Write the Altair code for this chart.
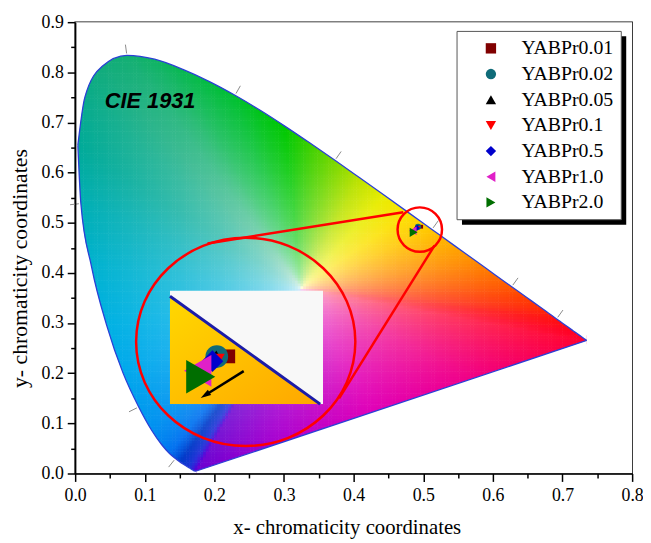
import numpy as np
import pandas as pd
import altair as alt

# ---------------- data ----------------
# CIE 1931 2-degree spectral locus (chromaticity of monochromatic light)
wavelength = list(range(380, 705, 5))
locus_x = [0.1741, 0.1740, 0.1738, 0.1736, 0.1733, 0.1730, 0.1726, 0.1721,
           0.1714, 0.1703, 0.1689, 0.1669, 0.1644, 0.1611, 0.1566, 0.1510,
           0.1440, 0.1355, 0.1241, 0.1096, 0.0913, 0.0687, 0.0454, 0.0235,
           0.0082, 0.0039, 0.0139, 0.0389, 0.0743, 0.1142, 0.1547, 0.1929,
           0.2296, 0.2658, 0.3016, 0.3373, 0.3731, 0.4087, 0.4441, 0.4788,
           0.5125, 0.5448, 0.5752, 0.6029, 0.6270, 0.6482, 0.6658, 0.6801,
           0.6915, 0.7006, 0.7079, 0.7140, 0.7190, 0.7230, 0.7260, 0.7283,
           0.7300, 0.7311, 0.7320, 0.7327, 0.7334, 0.7340, 0.7344, 0.7346,
           0.7347]
locus_y = [0.0050, 0.0050, 0.0049, 0.0049, 0.0048, 0.0048, 0.0048, 0.0048,
           0.0051, 0.0058, 0.0069, 0.0086, 0.0109, 0.0138, 0.0177, 0.0227,
           0.0297, 0.0399, 0.0578, 0.0868, 0.1327, 0.2007, 0.2950, 0.4127,
           0.5384, 0.6548, 0.7502, 0.8120, 0.8338, 0.8262, 0.8059, 0.7816,
           0.7543, 0.7243, 0.6923, 0.6589, 0.6245, 0.5896, 0.5547, 0.5202,
           0.4866, 0.4544, 0.4242, 0.3965, 0.3725, 0.3514, 0.3340, 0.3197,
           0.3083, 0.2993, 0.2920, 0.2859, 0.2809, 0.2770, 0.2740, 0.2717,
           0.2700, 0.2689, 0.2680, 0.2673, 0.2666, 0.2660, 0.2656, 0.2654,
           0.2653]
marked_wavelengths = [460, 480, 500, 520, 540, 560, 580, 600, 620]

series = ["YABPr0.01", "YABPr0.02", "YABPr0.05", "YABPr0.1",
          "YABPr0.5", "YABPr1.0", "YABPr2.0"]
cie_x = [0.4970, 0.4925, 0.4923, 0.4933, 0.4908, 0.4850, 0.4862]
cie_y = [0.4921, 0.4920, 0.4937, 0.4907, 0.4895, 0.4842, 0.4810]

x_tick_values = [round(i * 0.05, 2) for i in range(17)]
y_tick_values = [round(i * 0.05, 2) for i in range(19)]

# ---------------- style / layout ----------------
SERIF = "Liberation Serif, Times New Roman, DejaVu Serif, serif"
colors = ["#800000", "#0f6b78", "#000000", "#ff0000", "#0000cc", "#e020c8", "#006e00"]
shapes = ["square", "circle", "triangle-up", "triangle-down", "diamond",
          "triangle-left", "triangle-right"]
inset_sizes = [196, 529, 49, 144, 484, 1024, 1156]

# edge colours of the rendered gamut (wavelength -> colour), purple line stops
edge_anchor_wl = [380, 420, 440, 455, 465, 475, 485, 492, 498, 505, 515, 522, 530,
                  540, 550, 558, 566, 572, 578, 585, 595, 605, 620, 640, 700]
edge_anchor_col = ["#6a00d0", "#5000d8", "#2030d8", "#0038c8", "#0070f0", "#0090f0",
                   "#00a8ec", "#00b4e0", "#00b0c0", "#00aa98", "#12ac7c", "#14b070",
                   "#08b850", "#00c030", "#00c800", "#60d400", "#c8e400", "#f8f000",
                   "#ffd200", "#ffa800", "#ff7000", "#ff4000", "#ff1010", "#ff0024",
                   "#ff0030"]
purple_stops = [0.0, 0.3, 0.55, 0.8, 1.0]
purple_cols = ["#ff0030", "#f00088", "#e000b8", "#a800d0", "#6a00d0"]
WHITE_PT = (0.325, 0.37)
SAT_POWER = 0.4

W, H = 564, 457
PXS, PYS = W / 0.8, H / 0.9          # pixels per data unit
MAG = 3.66                            # magnification of the zoom inset
ZFROM = (0.4908, 0.4880)              # centre of magnified region
ZTO = (0.1972, 0.2186)                # where it is shown
INSET = (0.1362, 0.3560, 0.1384, 0.3643)  # x0, x1, y0, y1 of inset frame
SMALL_C = (0.4950, 0.4864)
BIG_C = (0.2450, 0.2625)
LINKS = [(0.1901, 0.4587, 0.4713, 0.5210), (0.3791, 0.1497, 0.5163, 0.4549)]
ARROW = (0.2421, 0.2042, 0.1806, 0.1510)
LEG_BOX = (0.5485, 0.7844, 0.5061, 0.8816)
LEG_SHADOW = (0.5556, 0.7915, 0.4963, 0.8718)
CIE_LABEL = (0.0426, 0.7286)

XS = alt.Scale(domain=[0, 0.8], nice=False, zero=False)
YS = alt.Scale(domain=[0, 0.9], nice=False, zero=False)
major = "abs(datum.value*10 - round(datum.value*10)) < 0.001"
common_axis = dict(
    tickSize={"condition": {"test": major, "value": 8}, "value": 4.5},
    labelExpr=f"({major}) ? format(datum.value, '.1f') : ''",
    tickWidth=1.5, tickColor="black", domainColor="black", domainWidth=1.5,
    labelFont=SERIF, labelFontSize=18, labelColor="black",
    titleFont=SERIF, titleFontWeight="normal", titleColor="black",
    grid=False, zindex=1, labelOverlap=False, labelFlush=False,
)
XAX = alt.Axis(title="x- chromaticity coordinates", values=x_tick_values,
               labelPadding=5, titleFontSize=21, titleX=275, titleY=61,
               titleAlign="center", titleBaseline="alphabetic", **common_axis)
YAX = alt.Axis(title="y- chromaticity coordinates", values=y_tick_values,
               labelPadding=4, titleFontSize=22, titleX=-49, titleY=249,
               titleAngle=270, titleAlign="center", titleBaseline="alphabetic",
               **common_axis)


def X(f):
    return alt.X(f, type="quantitative", scale=XS, axis=XAX)


def Y(f):
    return alt.Y(f, type="quantitative", scale=YS, axis=YAX)


def hex2rgb(h):
    return [int(h[i:i + 2], 16) for i in (1, 3, 5)]


lx = np.array(locus_x)
ly = np.array(locus_y)
wl = np.array(wavelength)

# ---------------- colour field inside the locus ----------------
def inside(px, py):
    res = np.zeros(px.shape, bool)
    n = len(lx)
    j = n - 1
    for i in range(n):
        xi, yi, xj, yj = lx[i], ly[i], lx[j], ly[j]
        cond = ((yi > py) != (yj > py)) & (px < (xj - xi) * (py - yi) / (yj - yi + 1e-12) + xi)
        res ^= cond
        j = i
    return res


sx, sy = 0.004, 0.0055
gx, gy = np.meshgrid(np.arange(sx / 2, 0.745, sx), np.arange(sy / 2, 0.845, sy))
gx, gy = gx.ravel(), gy.ravel()
keep = inside(gx, gy)
for ox in (-sx, 0, sx):
    for oy in (-sy, 0, sy):
        keep |= inside(gx + ox, gy + oy)
gx, gy = gx[keep], gy[keep]

# boundary as seen from the white point: distance and edge colour by angle
anc_rgb = np.array([hex2rgb(c) for c in edge_anchor_col], float)
b_x = list(lx)
b_y = list(ly)
b_rgb = [[np.interp(w, edge_anchor_wl, anc_rgb[:, k]) for k in range(3)] for w in wavelength]
pur_rgb = np.array([hex2rgb(c) for c in purple_cols], float)
for f in np.linspace(0.02, 0.98, 40):
    b_x.append(lx[-1] + (lx[0] - lx[-1]) * f)
    b_y.append(ly[-1] + (ly[0] - ly[-1]) * f)
    b_rgb.append([np.interp(f, purple_stops, pur_rgb[:, k]) for k in range(3)])
b_x, b_y, b_rgb = np.array(b_x), np.array(b_y), np.array(b_rgb)
b_ang = np.arctan2((b_y - WHITE_PT[1]) * PYS, (b_x - WHITE_PT[0]) * PXS)
b_rad = np.hypot((b_y - WHITE_PT[1]) * PYS, (b_x - WHITE_PT[0]) * PXS)
o = np.argsort(b_ang)
b_ang, b_rad, b_rgb = b_ang[o], b_rad[o], b_rgb[o]

c_ang = np.arctan2((gy - WHITE_PT[1]) * PYS, (gx - WHITE_PT[0]) * PXS)
c_rad = np.hypot((gy - WHITE_PT[1]) * PYS, (gx - WHITE_PT[0]) * PXS)
R = np.interp(c_ang, b_ang, b_rad, period=2 * np.pi)
t = np.clip(c_rad / R, 0, 1) ** SAT_POWER
edge = np.stack([np.interp(c_ang, b_ang, b_rgb[:, k], period=2 * np.pi) for k in range(3)], 1)
rgb = 255 * (1 - t[:, None]) + edge * t[:, None]
rgb = np.clip(np.round(rgb), 0, 255).astype(int)
hexes = ["#%02x%02x%02x" % tuple(c) for c in rgb]
cells_df = pd.DataFrame({"x": np.round(gx, 5), "y": np.round(gy, 5), "c": hexes})

cells = alt.Chart(cells_df).mark_square(size=11.5, opacity=1, strokeWidth=0).encode(
    x=X("x"), y=Y("y"), color=alt.Color("c:N", scale=None))

# ---------------- white masks outside the locus ----------------
last = len(wavelength) - 1
top_idx = [i for i, w in enumerate(wavelength) if w >= 505]
top_df = pd.DataFrame({"x": lx[top_idx], "y": ly[top_idx], "y2": 0.9})
low_idx = [i for i, w in enumerate(wavelength) if w <= 505][::-1]
low_df = pd.DataFrame({"x": lx[low_idx], "y": ly[low_idx], "y2": 0.0})
pur_df = pd.DataFrame({"x": [lx[0], lx[last]], "y": [ly[0], ly[last]], "y2": [0.0, 0.0]})
side_df = pd.DataFrame({"x": [0.0, lx.max() - 0.0005], "x2": [lx.min() + 0.0004, 0.8],
                        "y": [0.0, 0.0], "y2": [0.9, 0.9]})
mask_top = alt.Chart(top_df).mark_area(color="white", opacity=1, interpolate="monotone").encode(
    x=X("x"), y=Y("y"), y2="y2:Q")
mask_low = alt.Chart(low_df).mark_area(color="white", opacity=1, interpolate="monotone").encode(
    x=X("x"), y=Y("y"), y2="y2:Q")
mask_pur = alt.Chart(pur_df).mark_area(color="white", opacity=1).encode(
    x=X("x"), y=Y("y"), y2="y2:Q")
mask_side = alt.Chart(side_df).mark_rect(color="white", opacity=1).encode(
    x=X("x"), x2="x2:Q", y=Y("y"), y2="y2:Q")

# ---------------- locus outline ----------------
OUT = dict(color="#2b3fd6", strokeWidth=1.3)
outline_top = alt.Chart(top_df).mark_line(interpolate="monotone", **OUT).encode(x=X("x"), y=Y("y"))
outline_low = alt.Chart(low_df).mark_line(interpolate="monotone", **OUT).encode(x=X("x"), y=Y("y"))
outline_pur = alt.Chart(pur_df).mark_line(**OUT).encode(x=X("x"), y=Y("y"))

# wavelength tick marks, perpendicular to the locus
rows = []
for w in marked_wavelengths:
    i = wavelength.index(w)
    tx = (lx[i + 1] - lx[i - 1]) * PXS
    ty = (ly[i + 1] - ly[i - 1]) * PYS
    nx, ny = ty, -tx
    nn = np.hypot(nx, ny)
    nx, ny = nx / nn, ny / nn
    if nx * (lx[i] - 0.33) * PXS + ny * (ly[i] - 0.33) * PYS < 0:
        nx, ny = -nx, -ny
    rows.append({"x": lx[i] + 2 * nx / PXS, "y": ly[i] + 2 * ny / PYS,
                 "x2": lx[i] + 11 * nx / PXS, "y2": ly[i] + 11 * ny / PYS})
wl_ticks = alt.Chart(pd.DataFrame(rows)).mark_rule(color="#8a8a8a", strokeWidth=1).encode(
    x=X("x"), y=Y("y"), x2="x2:Q", y2="y2:Q")

# ---------------- zoom circles and links ----------------
link_df = pd.DataFrame(LINKS, columns=["x", "y", "x2", "y2"])
links = alt.Chart(link_df).mark_rule(color="#ff0000", strokeWidth=2.5).encode(
    x=X("x"), y=Y("y"), x2="x2:Q", y2="y2:Q")
small_c = alt.Chart(pd.DataFrame({"x": [SMALL_C[0]], "y": [SMALL_C[1]]})).mark_point(
    shape="circle", size=45 ** 2, filled=False, color="#ff0000", strokeWidth=2.5, opacity=1
).encode(x=X("x"), y=Y("y"))
big_c = alt.Chart(pd.DataFrame({"x": [BIG_C[0]], "y": [BIG_C[1]]})).mark_point(
    shape="M-1,0A1,0.95,0,1,1,1,0A1,0.95,0,1,1,-1,0Z", size=222 ** 2, filled=False,
    color="#ff0000", strokeWidth=2.5, opacity=1
).encode(x=X("x"), y=Y("y"))

# ---------------- inset (magnified view) ----------------
mx = ZTO[0] + MAG * (lx - ZFROM[0])
my = ZTO[1] + MAG * (ly - ZFROM[1])
sel = (wl >= 555) & (wl <= 610)
mxs, mys = mx[sel], my[sel]
x0, x1, y0, y1 = INSET
x_start = max(x0, float(np.interp(y1, mys[::-1], mxs[::-1])))
x_end = min(x1, float(np.interp(y0, mys[::-1], mxs[::-1])))
px_line = [x_start] + [v for v in mxs if x_start < v < x_end] + [x_end]
py_line = [float(np.interp(v, mxs, mys)) for v in px_line]
inset_line_df = pd.DataFrame({"x": px_line, "y": py_line, "y2": y0})
if x_start > x0:
    inset_line_df = pd.concat([pd.DataFrame({"x": [x0], "y": [y1], "y2": [y0]}), inset_line_df])

inset_bg = alt.Chart(pd.DataFrame({"x": [x0], "x2": [x1], "y": [y0], "y2": [y1]})).mark_rect(
    color="#f8f8f8", opacity=1).encode(x=X("x"), x2="x2:Q", y=Y("y"), y2="y2:Q")
inset_fill = alt.Chart(inset_line_df).mark_area(
    opacity=1,
    color=alt.Gradient(gradient="linear",
                       stops=[alt.GradientStop(color="#ffd800", offset=0),
                              alt.GradientStop(color="#ffa700", offset=1)],
                       x1=0, x2=1, y1=0, y2=1)
).encode(x=X("x"), y=Y("y"), y2="y2:Q")
inset_line = alt.Chart(pd.DataFrame({"x": px_line, "y": py_line})).mark_line(
    color="#1c1ca8", strokeWidth=3).encode(x=X("x"), y=Y("y"))

pts = pd.DataFrame({"series": series, "x": cie_x, "y": cie_y,
                    "isize": inset_sizes,
                    "msize": [s / MAG ** 2 for s in inset_sizes]})
pts["ix"] = ZTO[0] + MAG * (pts["x"] - ZFROM[0])
pts["iy"] = ZTO[1] + MAG * (pts["y"] - ZFROM[1])

leg = alt.Legend(orient="none", legendX=387, legendY=7.5, title=None,
                 labelFont=SERIF, labelFontSize=20, labelColor="black",
                 symbolSize=110, symbolStrokeWidth=0, padding=9, rowPadding=6,
                 symbolOffset=15, labelOffset=21, symbolOpacity=1)
color_enc = alt.Color("series:N", scale=alt.Scale(domain=series, range=colors), legend=leg)
shape_enc = alt.Shape("series:N", scale=alt.Scale(domain=series, range=shapes), legend=leg)

inset_pts = alt.Chart(pts).mark_point(filled=True, opacity=1, strokeWidth=0).encode(
    x=X("ix"), y=Y("iy"), color=color_enc, shape=shape_enc,
    size=alt.Size("isize:Q", scale=None))
main_pts = alt.Chart(pts).mark_point(filled=True, opacity=1, strokeWidth=0).encode(
    x=X("x"), y=Y("y"), color=color_enc, shape=shape_enc,
    size=alt.Size("msize:Q", scale=None))

# arrow inside the inset
ax0, ay0, ax1, ay1 = ARROW
dxp, dyp = (ax1 - ax0) * PXS, (ay1 - ay0) * PYS
L = np.hypot(dxp, dyp)
ux, uy = dxp / L, dyp / L
hx, hy = ax1 - 5 * ux / PXS, ay1 - 5 * uy / PYS
ang = float(np.degrees(np.arctan2(-dyp, dxp))) % 360
arrow_line = alt.Chart(pd.DataFrame({"x": [ax0], "y": [ay0], "x2": [hx], "y2": [hy]})).mark_rule(
    color="black", strokeWidth=2.5).encode(x=X("x"), y=Y("y"), x2="x2:Q", y2="y2:Q")
arrow_head = alt.Chart(pd.DataFrame({"x": [hx], "y": [hy]})).mark_point(
    shape="M1,0L-1,-0.6L-1,0.6Z", size=110, angle=ang, filled=True, color="black",
    opacity=1, strokeWidth=0).encode(x=X("x"), y=Y("y"))

cie_text = alt.Chart(pd.DataFrame({"x": [CIE_LABEL[0]], "y": [CIE_LABEL[1]], "t": ["CIE 1931"]})).mark_text(
    font="Liberation Sans", fontSize=22, fontWeight="bold", fontStyle="italic",
    align="left", baseline="alphabetic", color="black"
).encode(x=X("x"), y=Y("y"), text="t:N")

shadow = alt.Chart(pd.DataFrame({"x": [LEG_SHADOW[0]], "x2": [LEG_SHADOW[1]],
                                 "y": [LEG_SHADOW[2]], "y2": [LEG_SHADOW[3]]})).mark_rect(
    color="black", opacity=1).encode(x=X("x"), x2="x2:Q", y=Y("y"), y2="y2:Q")
legbox = alt.Chart(pd.DataFrame({"x": [LEG_BOX[0]], "x2": [LEG_BOX[1]],
                                 "y": [LEG_BOX[2]], "y2": [LEG_BOX[3]]})).mark_rect(
    fill="white", stroke="#555555", strokeWidth=1, opacity=1).encode(
    x=X("x"), x2="x2:Q", y=Y("y"), y2="y2:Q")

chart = alt.layer(
    cells, mask_top, mask_low, mask_pur, mask_side,
    outline_top, outline_low, outline_pur, wl_ticks,
    links, small_c, big_c,
    inset_bg, inset_fill, inset_line, inset_pts, arrow_line, arrow_head,
    main_pts, cie_text, shadow, legbox,
).properties(
    width=W, height=H, autosize="none",
    padding={"left": 68, "top": 11, "right": 11, "bottom": 67},
    background="white",
).configure_view(stroke="black", strokeWidth=1.5)

chart.save("out.html", embed_options={"renderer": "svg", "actions": False})
